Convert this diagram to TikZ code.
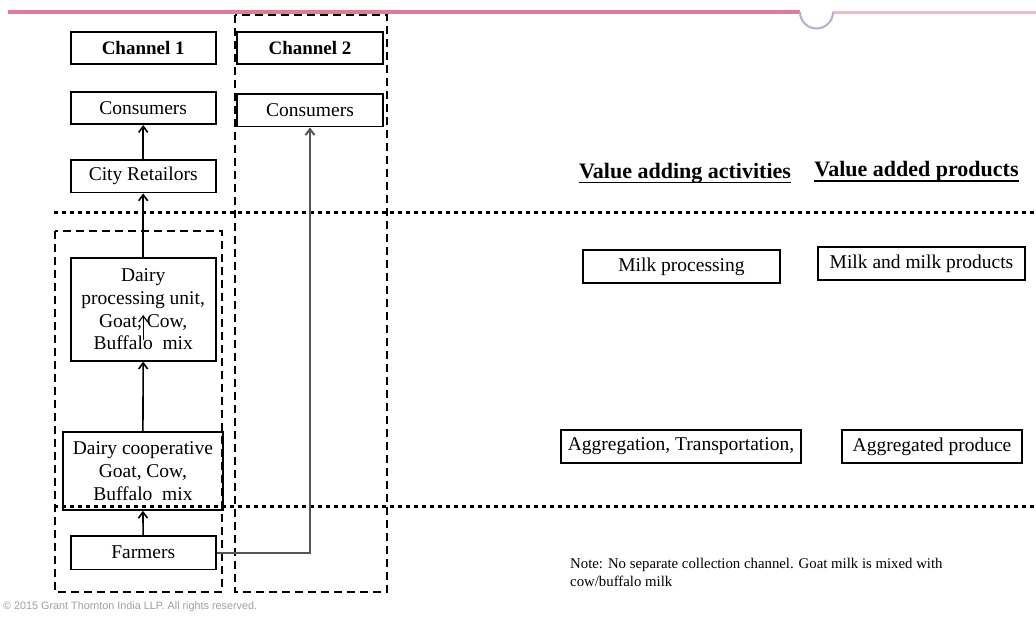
\documentclass[tikz,border=0pt]{standalone}
\usepackage{fontspec}
\setmainfont{Liberation Serif}
\newfontfamily\cpfont{Liberation Sans}
\usetikzlibrary{arrows.meta}
\definecolor{rulepink}{HTML}{E07A95}
\definecolor{rulepinklight}{HTML}{F2B8C6}
\definecolor{ringlav}{HTML}{B8A8D8}
\definecolor{linkgray}{HTML}{555555}
\tikzset{
  box/.style={draw, line width=1.6pt, inner sep=0pt, align=center,
    font=\fontsize{19.5}{22.7}\selectfont},
  hbox/.style={box, font=\fontsize{19}{22}\selectfont\bfseries},
  arr/.style={line width=1.6pt, -{Straight Barb[length=6pt,width=9pt]}},
  grayarr/.style={line width=2pt, draw=linkgray, -{Straight Barb[length=6pt,width=9pt]}},
  chanframe/.style={line width=1.8pt, dash pattern=on 8pt off 5pt},
  separator/.style={line width=3pt, dash pattern=on 3.5pt off 4.5pt},
  hdr/.style={inner sep=0pt, anchor=base, font=\fontsize{22}{25}\selectfont\bfseries},
}
\begin{document}
\begin{tikzpicture}[x=1pt, y=-1pt]
\useasboundingbox (0,0) rectangle (1036,616);

% header rule with ring
\draw[rulepink, line width=4pt] (8,12) -- (800,12);
\draw[rulepinklight, line width=3pt] (833,12) -- (1036,12);
\draw[ringlav, line width=2pt] (800,12) arc[start angle=180, end angle=0, radius=16.5];

% channel frames
\draw[chanframe] (235,15) rectangle (387,592);
\draw[chanframe] (55,231) rectangle (222,592);

% stage separators
\draw[separator] (54,212.7) -- (1036,212.7);
\draw[separator] (54,506.7) -- (1036,506.7);

% channel 1
\node[hbox, minimum width=145pt, minimum height=32.5pt] (ch1) at (143.2,48) {Channel 1};
\node[box, minimum width=145pt, minimum height=32.5pt] (cons1) at (143.2,108) {Consumers};
\node[box, minimum width=145pt, minimum height=32.7pt] (city) at (143.2,176.3) {City Retailors};
\node[box, minimum width=145pt, minimum height=102.7pt] (proc) at (143.2,309.5)
  {Dairy\\processing unit,\\Goat, Cow,\\Buffalo\ \ mix};
\node[box, minimum width=160.3pt, minimum height=78pt] (coop) at (142.9,471)
  {Dairy cooperative\\Goat, Cow,\\Buffalo\ \ mix};
\node[box, minimum width=145pt, minimum height=33.3pt] (farm) at (143.2,552.7) {Farmers};

% channel 2
\node[hbox, minimum width=146pt, minimum height=32.5pt] (ch2) at (310,48) {Channel 2};
\node[box, minimum width=146pt, minimum height=32.7pt] (cons2) at (310,110.3) {Consumers};

% flows
\draw[arr] (farm.north) -- (coop.south);
\draw[arr] (coop.north) -- (proc.south);
\draw[arr] (proc.north) -- (city.south);
\draw[arr] (city.north) -- (cons1.south);
\coordinate (stubA) at (143.2,340);
\coordinate (stubB) at (143.2,315);
\draw[arr, line width=1.2pt] (stubA) -- (stubB);
\draw[grayarr] (farm.east) -| (cons2.south);

% value chain columns
\node[hdr] (hA) at (685,178) {Value adding activities};
\node[hdr] (hB) at (916.5,176.7) {Value added products};
\draw[line width=1.5pt] ([yshift=-4.5pt]hA.base west) -- ([yshift=-4.5pt]hA.base east);
\draw[line width=1.5pt] ([yshift=-4.5pt]hB.base west) -- ([yshift=-4.5pt]hB.base east);

\node[box, minimum width=197pt, minimum height=33pt] (milkp) at (681.5,266.5) {Milk processing};
\node[box, minimum width=207pt, minimum height=33pt] (milkprod) at (921.5,263.5) {Milk and milk products};
\node[box, minimum width=240pt, minimum height=33pt] (aggr) at (681,446.5) {Aggregation, Transportation,};
\node[box, minimum width=180pt, minimum height=33pt] (aggp) at (932,446.5) {Aggregated produce};

% note and footer
\node[anchor=north west, inner sep=0pt, align=left, font=\fontsize{14.8}{18}\selectfont] (note) at (570,558)
  {Note: No separate collection channel. Goat milk is mixed with\\cow/buffalo milk};
\node[anchor=base west, inner sep=0pt, text=gray!75, font=\cpfont\fontsize{10.8}{12}\selectfont] (copy) at (3,609)
  {\textcopyright\ 2015 Grant Thornton India LLP. All rights reserved.};
\end{tikzpicture}
\end{document}
